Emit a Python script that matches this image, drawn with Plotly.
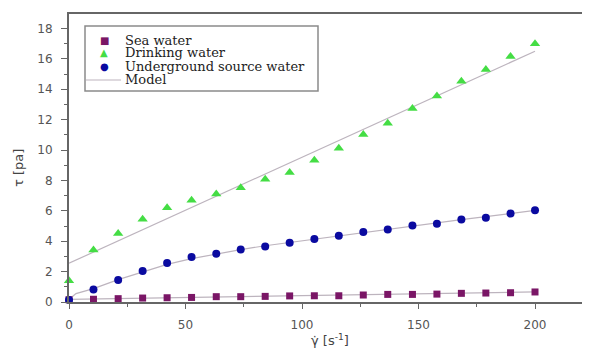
import plotly.graph_objects as go

# ---- data ----
shear_rate = [0, 10.5, 21.1, 31.6, 42.1, 52.6, 63.2, 73.7, 84.2, 94.7,
              105.3, 115.8, 126.3, 136.8, 147.4, 157.9, 168.4, 178.9, 189.5, 200]
sea_water = [0.15, 0.18, 0.22, 0.26, 0.28, 0.30, 0.35, 0.35, 0.37, 0.40,
             0.41, 0.41, 0.46, 0.50, 0.50, 0.52, 0.57, 0.59, 0.61, 0.66]
drinking_water = [1.40, 3.42, 4.51, 5.45, 6.20, 6.70, 7.10, 7.51, 8.08, 8.52,
                  9.33, 10.12, 11.02, 11.76, 12.73, 13.56, 14.52, 15.29, 16.16, 17.00]
underground_water = [0.13, 0.83, 1.45, 2.04, 2.56, 2.96, 3.18, 3.46, 3.66, 3.90,
                     4.14, 4.36, 4.60, 4.77, 5.04, 5.15, 5.43, 5.54, 5.82, 6.04]

model_sea_x = [0, 200]
model_sea_y = [0.17, 0.66]
model_drink_x = [0, 200]
model_drink_y = [2.55, 16.5]
model_under_x = [0, 1, 3, 6, 10.5, 21.1, 31.6, 42.1, 52.6, 63.2, 73.7, 84.2, 94.7,
                 105.3, 115.8, 126.3, 136.8, 147.4, 157.9, 168.4, 178.9, 189.5, 200]
model_under_y = [0.10, 0.30, 0.55, 0.70, 0.88, 1.47, 2.00, 2.48, 2.85, 3.17, 3.45, 3.70, 3.92,
                 4.14, 4.36, 4.58, 4.80, 5.00, 5.20, 5.42, 5.62, 5.83, 6.03]

legend_labels = ["Sea water", "Drinking water", "Underground source water", "Model"]

SEA_C = "#7a1666"
DRINK_C = "#44dd44"
UNDER_C = "#0a0aa0"
MODEL_C = "#bdb4be"

# ---- layout geometry (screen pixels; the page body adds an 8px offset) ----
OFF = 8
W, H = 590 - OFF, 351 - OFF
L, R, T, B = 69, 590, 14, 302


def px(x):
    return (x - L) / (R - L)


def py(y):
    return (B - y) / (B - T)


fig = go.Figure()

for mx, my in [(model_sea_x, model_sea_y), (model_drink_x, model_drink_y),
               (model_under_x, model_under_y)]:
    fig.add_trace(go.Scatter(x=mx, y=my, mode="lines",
                             line=dict(color=MODEL_C, width=1.2),
                             showlegend=False, hoverinfo="skip"))

fig.add_trace(go.Scatter(x=shear_rate, y=sea_water, mode="markers", name=legend_labels[0],
                         marker=dict(symbol="square", size=7, color=SEA_C),
                         cliponaxis=False, showlegend=False))
fig.add_trace(go.Scatter(x=shear_rate, y=drinking_water, mode="markers", name=legend_labels[1],
                         marker=dict(symbol="triangle-up", size=9, color=DRINK_C),
                         cliponaxis=False, showlegend=False))
fig.add_trace(go.Scatter(x=shear_rate, y=underground_water, mode="markers", name=legend_labels[2],
                         marker=dict(symbol="circle", size=8, color=UNDER_C),
                         cliponaxis=False, showlegend=False))

# ---- hand-drawn legend (compact row spacing like the original) ----
rows_y = [40, 53, 66.5, 80]
glyphs = [("■", SEA_C, 10), ("▲", DRINK_C, 10), ("●", UNDER_C, 10)]
annotations = []
for (g, c, s), ry in zip(glyphs, rows_y[:3]):
    annotations.append(dict(x=px(104), y=py(ry), xref="paper", yref="paper", text=g,
                            showarrow=False, xanchor="center", yanchor="middle",
                            font=dict(family="DejaVu Sans", size=s, color=c)))
for lab, ry in zip(legend_labels, rows_y):
    annotations.append(dict(x=px(123), y=py(ry), xref="paper", yref="paper", text=lab,
                            showarrow=False, xanchor="left", yanchor="middle",
                            font=dict(family="DejaVu Serif", size=13, color="#222")))

annotations.append(dict(x=px(18), y=py(168), xref="paper", yref="paper",
                        text="τ [pa]", textangle=-90, showarrow=False,
                        xanchor="center", yanchor="middle",
                        font=dict(family="DejaVu Sans", size=13, color="#444")))
annotations.append(dict(x=px(330), y=py(340), xref="paper", yref="paper",
                        text="γ̇ [s<sup>-1</sup>]", showarrow=False,
                        xanchor="center", yanchor="middle",
                        font=dict(family="DejaVu Sans", size=13, color="#444")))

shapes = [
    dict(type="rect", xref="paper", yref="paper", x0=px(85), x1=px(318), y0=py(91), y1=py(26),
         line=dict(color="#8a8a8a", width=1.5), fillcolor="rgba(0,0,0,0)"),
    dict(type="line", xref="paper", yref="paper", x0=px(86), x1=px(121), y0=py(80), y1=py(80),
         line=dict(color=MODEL_C, width=1.2)),
]

fig.update_layout(
    width=W, height=H,
    margin=dict(l=L - OFF, r=0, t=T - OFF, b=H - (B - OFF), pad=0),
    paper_bgcolor="white", plot_bgcolor="white",
    showlegend=False,
    annotations=annotations,
    shapes=shapes,
    font=dict(family="DejaVu Sans", size=12, color="#555"),
)

fig.update_xaxes(
    range=[0, 223.6], tickmode="array", tickvals=[0, 50, 100, 150, 200],
    ticks="outside", ticklen=5, tickwidth=1.2, tickcolor="#666",
    minor=dict(tickvals=[25, 75, 125, 175], ticks="outside", ticklen=3, tickcolor="#666"),
    showline=True, linecolor="#666", linewidth=2, mirror=True,
    showgrid=False, zeroline=False, automargin=False,
    tickfont=dict(family="DejaVu Sans", size=12, color="#555"),
    ticklabelstandoff=6,
)
fig.update_yaxes(
    range=[0, 18.95], tickmode="array", tickvals=list(range(0, 19, 2)),
    ticks="outside", ticklen=6, tickwidth=1.2, tickcolor="#666",
    minor=dict(tickvals=list(range(1, 19, 2)), ticks="outside", ticklen=3, tickcolor="#666"),
    showline=True, linecolor="#666", linewidth=2, mirror=False,
    showgrid=False, zeroline=False, automargin=False,
    tickfont=dict(family="DejaVu Sans", size=12, color="#555"),
    ticklabelstandoff=6,
)

fig.write_html("out.html")
